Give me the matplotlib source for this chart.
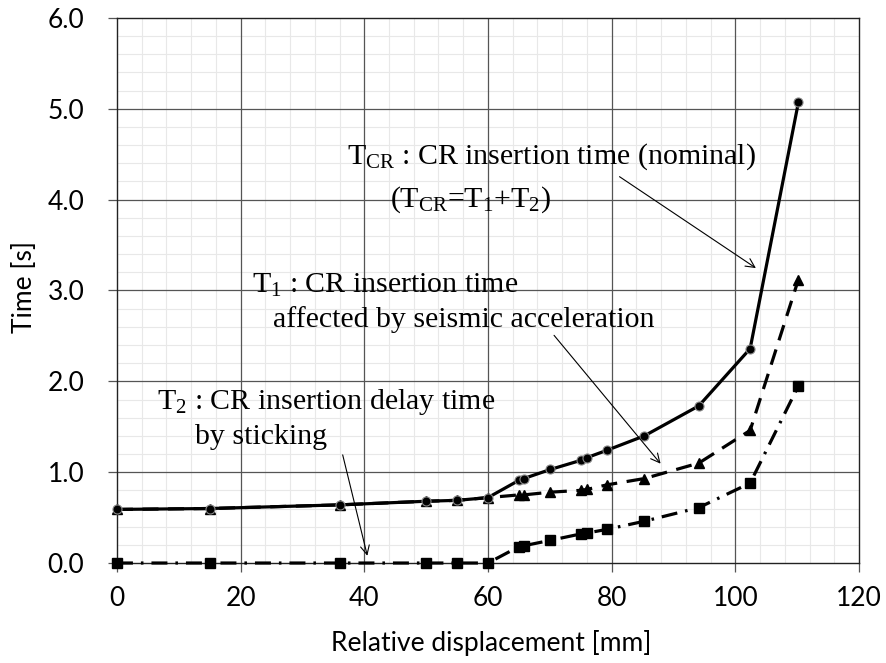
import matplotlib
matplotlib.use("Agg")
import matplotlib.pyplot as plt
from matplotlib.ticker import MultipleLocator, FormatStrFormatter

plt.rcParams['font.family'] = ['Lato', 'DejaVu Sans']
plt.rcParams['mathtext.fontset'] = 'custom'
plt.rcParams['mathtext.rm'] = 'Liberation Serif'
plt.rcParams['mathtext.it'] = 'Liberation Serif:italic'

# Data
disp = [0, 15, 36, 50, 55, 60, 65.0, 65.8, 70.1, 75.0, 76.0, 79.2, 85.3, 94.1, 102.4, 110.2]
t_cr = [0.59, 0.60, 0.64, 0.68, 0.69, 0.72, 0.91, 0.93, 1.03, 1.13, 1.16, 1.24, 1.40, 1.73, 2.36, 5.07]
t_1 = [0.59, 0.60, 0.64, 0.68, 0.69, 0.72, 0.75, 0.75, 0.78, 0.80, 0.81, 0.86, 0.93, 1.10, 1.46, 3.12]
t_2 = [0.0, 0.0, 0.0, 0.0, 0.0, 0.0, 0.18, 0.19, 0.25, 0.32, 0.33, 0.37, 0.46, 0.61, 0.88, 1.95]

x_ticks = [0, 20, 40, 60, 80, 100, 120]
y_ticks = [0.0, 1.0, 2.0, 3.0, 4.0, 5.0, 6.0]

fig = plt.figure(figsize=(8.86, 6.63), dpi=100)
ax = fig.add_axes([0.132, 0.1508, 0.8375, 0.8221])

ax.set_xlim(0, 120)
ax.set_ylim(0, 6.0)
ax.set_xticks(x_ticks)
ax.set_yticks(y_ticks)
ax.yaxis.set_major_formatter(FormatStrFormatter('%.1f'))
ax.xaxis.set_minor_locator(MultipleLocator(4))
ax.yaxis.set_minor_locator(MultipleLocator(0.2))

# grid drawn manually so that major lines are never cut by minor ones
for v in ax.xaxis.get_minorticklocs():
    ax.axvline(v, color='#e8e8e8', lw=0.8, zorder=0)
for v in ax.yaxis.get_minorticklocs():
    ax.axhline(v, color='#e8e8e8', lw=0.8, zorder=0)
for v in x_ticks[1:-1]:
    ax.axvline(v, color='#555555', lw=0.9, zorder=0.5)
for v in y_ticks[1:-1]:
    ax.axhline(v, color='#555555', lw=0.9, zorder=0.5)

ax.tick_params(which='major', direction='out', length=6.5, width=0.9, color='#555555',
               labelsize=19)
ax.tick_params(axis='x', pad=10)
ax.tick_params(axis='y', pad=17)
ax.tick_params(which='minor', length=0)
for s in ax.spines.values():
    s.set_color('#222222')
    s.set_linewidth(1.0)

ax.plot(disp, t_2, color='black', lw=2.3, dashes=(5, 2.5, 0.8, 2.5),
        marker='s', ms=7, mfc='black', mec='black', zorder=3, clip_on=False)
ax.plot(disp, t_1, color='black', lw=2.3, dashes=(5, 3),
        marker='^', ms=7.5, mfc='black', mec='black', zorder=4, clip_on=False)
ax.plot(disp, t_cr, color='black', lw=2.3, linestyle='-',
        marker='o', ms=6.5, mfc='black', mec='#888888', mew=0.8, zorder=5, clip_on=False)

ax.set_xlabel('Relative displacement [mm]', fontsize=19)
ax.set_ylabel('Time [s]', fontsize=19)
ax.xaxis.set_label_coords(0.505, -0.122)
ax.yaxis.set_label_coords(-0.108, 0.506)

tfont = dict(fontfamily='Liberation Serif', fontsize=21.5, color='black', zorder=6)
arrow = dict(arrowstyle='->', color='black', lw=0.8, mutation_scale=16)

ax.text(37.2, 4.47, r'T$_{\mathrm{CR}}$ : CR insertion time (nominal)', ha='left', va='center', **tfont)
ax.text(44.2, 4.00, r'(T$_{\mathrm{CR}}$=T$_{1}$+T$_{2}$)', ha='left', va='center', **tfont)
ax.annotate('', xy=(103.7, 3.23), xytext=(80.9, 4.27), arrowprops=arrow, zorder=6)

ax.text(21.8, 3.06, r'T$_{1}$ : CR insertion time', ha='left', va='center', **tfont)
ax.text(25.2, 2.68, 'affected by seismic acceleration', ha='left', va='center', **tfont)
ax.annotate('', xy=(88.2, 1.07), xytext=(70.4, 2.53), arrowprops=arrow, zorder=6)

ax.text(6.5, 1.77, r'T$_{2}$ : CR insertion delay time', ha='left', va='center', **tfont)
ax.text(12.6, 1.39, 'by sticking', ha='left', va='center', **tfont)
ax.annotate('', xy=(40.6, 0.05), xytext=(36.4, 1.22), arrowprops=arrow, zorder=6)

fig.savefig('out.png', dpi=100)
